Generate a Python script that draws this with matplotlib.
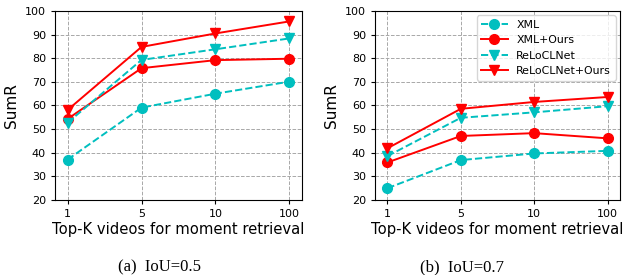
import matplotlib
matplotlib.use("Agg")
import matplotlib.pyplot as plt
import numpy as np

topk_labels = ["1", "5", "10", "100"]

# IoU=0.5
xml_05 = [37.1, 59.1, 65.0, 70.1]
xml_ours_05 = [54.3, 75.8, 79.2, 79.8]
reloc_05 = [52.7, 79.3, 83.8, 88.4]
reloc_ours_05 = [58.1, 84.8, 90.5, 95.6]

# IoU=0.7
xml_07 = [25.0, 36.9, 39.7, 40.8]
xml_ours_07 = [35.9, 47.1, 48.3, 46.1]
reloc_07 = [38.6, 54.8, 57.1, 59.7]
reloc_ours_07 = [41.9, 58.6, 61.5, 63.6]

series_names = ["XML", "XML+Ours", "ReLoCLNet", "ReLoCLNet+Ours"]


def draw(ax, data, legend=False):
    x = np.arange(len(topk_labels))
    styles = [
        dict(color="c", linestyle="--", marker="o"),
        dict(color="r", linestyle="-", marker="o"),
        dict(color="c", linestyle="--", marker="v"),
        dict(color="r", linestyle="-", marker="v"),
    ]
    for vals, name, st in zip(data, series_names, styles):
        ax.plot(x, vals, label=name, linewidth=1.4, markersize=7, **st)
    ax.set_xticks(x)
    ax.set_xticklabels(topk_labels)
    ax.set_xlim(-0.17, 3.17)
    ax.set_ylim(20, 100)
    ax.set_yticks(np.arange(20, 101, 10))
    ax.tick_params(labelsize=8, length=3)
    ax.grid(True, linestyle="--", color="#a8a8a8", linewidth=0.7)
    ax.set_xlabel("Top-K videos for moment retrieval", fontsize=10.6, labelpad=2)
    ax.set_ylabel("SumR", fontsize=11, labelpad=4)
    if legend:
        ax.legend(loc="upper right", fontsize=7.9, handlelength=2.4,
                  borderpad=0.4, labelspacing=0.5, borderaxespad=0.4)


fig = plt.figure(figsize=(6.3, 2.75), dpi=100)
ax1 = fig.add_axes([55 / 630, 75 / 275, 247 / 630, 189 / 275])
ax2 = fig.add_axes([375 / 630, 75 / 275, 245 / 630, 189 / 275])

draw(ax1, [xml_05, xml_ours_05, reloc_05, reloc_ours_05])
draw(ax2, [xml_07, xml_ours_07, reloc_07, reloc_ours_07], legend=True)

fig.text(160 / 630, 1 - 267 / 275, "(a)  IoU=0.5", family="Liberation Serif",
         fontsize=12, ha="center", va="center")
fig.text(462 / 630, 1 - 267 / 275, "(b)  IoU=0.7", family="Liberation Serif",
         fontsize=12, ha="center", va="center")

fig.savefig("out.png", dpi=100)
